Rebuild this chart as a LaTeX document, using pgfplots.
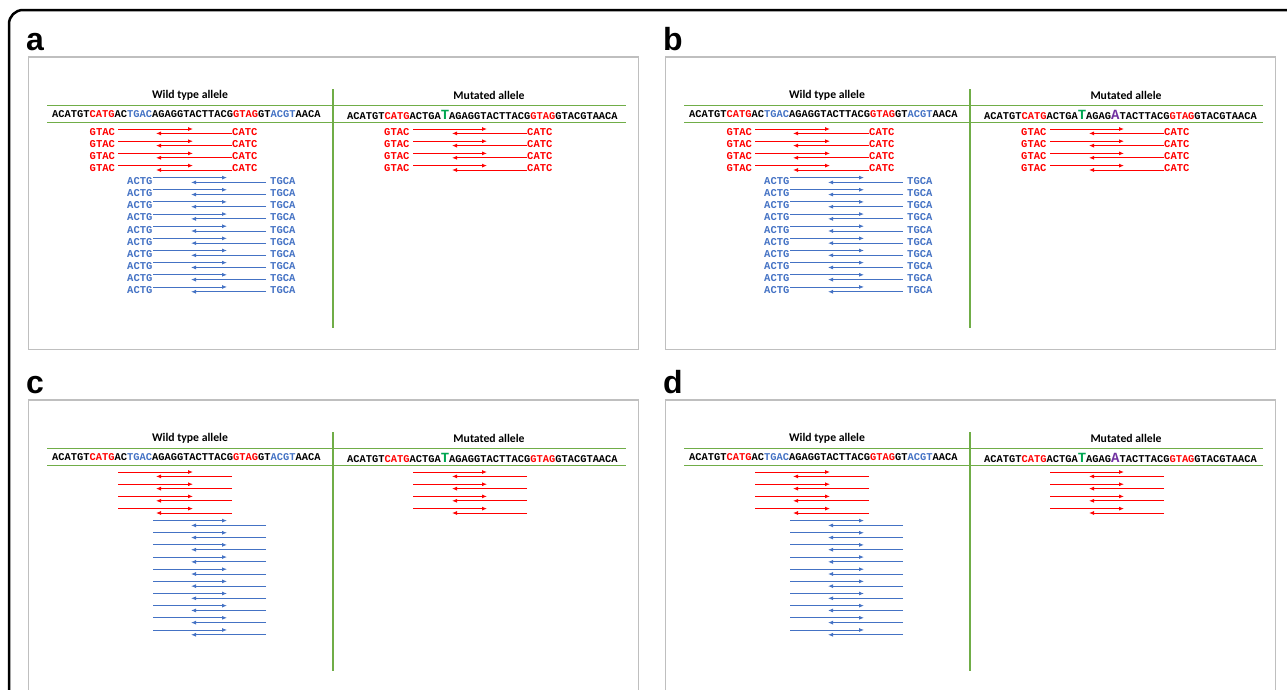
\documentclass[border=0pt]{standalone}
\usepackage{pgfplots}
\pgfplotsset{compat=1.18}
\usepackage{pgfplotstable}
\usepackage{fontspec}
\setmainfont{Liberation Sans}
\newfontfamily\mono{Liberation Mono}
\newfontfamily\calib{Carlito}
\usetikzlibrary{arrows.meta}

\definecolor{sred}{HTML}{FF0000}
\definecolor{sblue}{HTML}{4472C4}
\definecolor{lgreen}{HTML}{70AD47}
\definecolor{mgreen}{HTML}{00A651}
\definecolor{mpurple}{HTML}{7030A0}
\definecolor{boxgray}{HTML}{BFBFBF}

\newcommand\seq{\mono\bfseries\fontsize{10.4}{12}\selectfont}
\newcommand\lab{\mono\bfseries\fontsize{10.5}{12}\selectfont}
\newcommand\hdr{\calib\bfseries\fontsize{11.7}{13}\selectfont}
\newcommand\mutlet[2]{{\fontsize{14}{14}\selectfont\textcolor{#1}{#2}}}

\newcommand\wtseq{ACATGT\textcolor{sred}{CATG}AC\textcolor{sblue}{TGAC}AGAGGTACTTACG\textcolor{sred}{GTAG}GT\textcolor{sblue}{ACGT}AACA}
\newcommand\mutseqA{ACATGT\textcolor{sred}{CATG}ACTGA\mutlet{mgreen}{T}AGAGGTACTTACG\textcolor{sred}{GTAG}GTACGTAACA}
\newcommand\mutseqB{ACATGT\textcolor{sred}{CATG}ACTGA\mutlet{mgreen}{T}AGAG\mutlet{mpurple}{A}TACTTACG\textcolor{sred}{GTAG}GTACGTAACA}

% red arrows of one panel (panel a coordinates): id, x, y; each arrow runs from its first row to its second
\pgfplotstableread{
id x y
0 118 129.0
0 193 129.0
1 118 141.2
1 193 141.2
2 118 153.4
2 193 153.4
3 118 165.6
3 193 165.6
4 232 133.4
4 156 133.4
5 232 145.6
5 156 145.6
6 232 157.8
6 156 157.8
7 232 170.0
7 156 170.0
8 413 129.0
8 487 129.0
9 413 141.2
9 487 141.2
10 413 153.4
10 487 153.4
11 413 165.6
11 487 165.6
12 527 133.4
12 452 133.4
13 527 145.6
13 452 145.6
14 527 157.8
14 452 157.8
15 527 170.0
15 452 170.0
}\redTab
% blue arrows (left half only)
\pgfplotstableread{
id x y
0 153 177.6
0 227 177.6
1 153 189.75
1 227 189.75
2 153 201.9
2 227 201.9
3 153 214.05
3 227 214.05
4 153 226.2
4 227 226.2
5 153 238.35
5 227 238.35
6 153 250.5
6 227 250.5
7 153 262.65
7 227 262.65
8 153 274.8
8 227 274.8
9 153 286.95
9 227 286.95
10 266 182.4
10 191 182.4
11 266 194.55
11 191 194.55
12 266 206.7
12 191 206.7
13 266 218.85
13 191 218.85
14 266 231.0
14 191 231.0
15 266 243.15
15 191 243.15
16 266 255.3
16 191 255.3
17 266 267.45
17 191 267.45
18 266 279.6
18 191 279.6
19 266 291.75
19 191 291.75
}\blueTab
\pgfplotstableread{
x y
47 105.3
626 105.3
}\gtop
\pgfplotstableread{
x y
47 122.7
626 122.7
}\gbot
\pgfplotstableread{
x y
333 89
333 328
}\gdiv

\tikzset{arr/.style={line width=0.9pt,-{Latex[length=5pt,width=4pt]}}}

\newcommand\panel[3]{%
  \draw[boxgray, line width=1.8pt] (axis cs:{28.5+#1},{57+#2}) rectangle (axis cs:{638.5+#1},{349.5+#2});
  \addplot[color=lgreen, line width=1.3pt] table[x expr=\thisrow{x}+#1, y expr=\thisrow{y}+#2]{\gtop};
  \addplot[color=lgreen, line width=1.3pt] table[x expr=\thisrow{x}+#1, y expr=\thisrow{y}+#2]{\gbot};
  \addplot[color=lgreen, line width=1.3pt] table[x expr=\thisrow{x}+#1, y expr=\thisrow{y}+#2]{\gdiv};
  \node[inner sep=0, font=\hdr] at (axis cs:{190+#1},{95.5+#2}) {Wild type allele};
  \node[inner sep=0, font=\hdr] at (axis cs:{489+#1},{95.5+#2}) {Mutated allele};
  \node[anchor=base west, inner sep=0] at (axis cs:{52+#1},{117.3+#2}) {\seq\wtseq};
  \node[anchor=base west, inner sep=0] at (axis cs:{347+#1},{119.3+#2}) {\seq #3};
  \pgfplotsinvokeforeach{0,...,15}{%
    \addplot[color=sred, arr, restrict expr to domain={\thisrow{id}}{##1:##1}]
      table[x expr=\thisrow{x}+#1, y expr=\thisrow{y}+#2]{\redTab};
  }
  \pgfplotsinvokeforeach{0,...,19}{%
    \addplot[color=sblue, arr, restrict expr to domain={\thisrow{id}}{##1:##1}]
      table[x expr=\thisrow{x}+#1, y expr=\thisrow{y}+#2]{\blueTab};
  }
}

\newcommand\labels[1]{%
  \pgfplotsinvokeforeach{0,1,2,3}{%
    \node[anchor=west, inner sep=0, text=sred, font=\lab] at (axis cs:{89.5+#1},{131.7+12.2*##1}) {GTAC};
    \node[anchor=west, inner sep=0, text=sred, font=\lab] at (axis cs:{232+#1},{131.7+12.2*##1}) {CATC};
    \node[anchor=west, inner sep=0, text=sred, font=\lab] at (axis cs:{384+#1},{131.7+12.2*##1}) {GTAC};
    \node[anchor=west, inner sep=0, text=sred, font=\lab] at (axis cs:{527+#1},{131.7+12.2*##1}) {CATC};
  }
  \pgfplotsinvokeforeach{0,...,9}{%
    \node[anchor=west, inner sep=0, text=sblue, font=\lab] at (axis cs:{127+#1},{181+12.15*##1}) {ACTG};
    \node[anchor=west, inner sep=0, text=sblue, font=\lab] at (axis cs:{270+#1},{181+12.15*##1}) {TGCA};
  }
}

\begin{document}
\begin{tikzpicture}
\begin{axis}[
  hide axis, scale only axis,
  width=1287pt, height=689pt,
  xmin=0, xmax=1287, ymin=0, ymax=689,
  y dir=reverse, clip=true,
]
\coordinate (BL) at (axis cs:0,689);
\coordinate (TR) at (axis cs:1287,0);
\draw[black, line width=2.5pt, rounded corners=14pt] (axis cs:9,720) -- (axis cs:9,10) -- (axis cs:1320,10);

\panel{0}{0}{\mutseqA}
\panel{637}{0}{\mutseqB}
\panel{0}{343}{\mutseqA}
\panel{637}{343}{\mutseqB}
\labels{0}
\labels{637}

\node[anchor=base west, inner sep=0, font=\fontsize{32}{32}\selectfont\bfseries] at (axis cs:26,50) {a};
\node[anchor=base west, inner sep=0, font=\fontsize{32}{32}\selectfont\bfseries] at (axis cs:663,50) {b};
\node[anchor=base west, inner sep=0, font=\fontsize{32}{32}\selectfont\bfseries] at (axis cs:26,393) {c};
\node[anchor=base west, inner sep=0, font=\fontsize{32}{32}\selectfont\bfseries] at (axis cs:663,393) {d};
\end{axis}
\pgfresetboundingbox
\useasboundingbox (BL) rectangle (TR);
\end{tikzpicture}
\end{document}
